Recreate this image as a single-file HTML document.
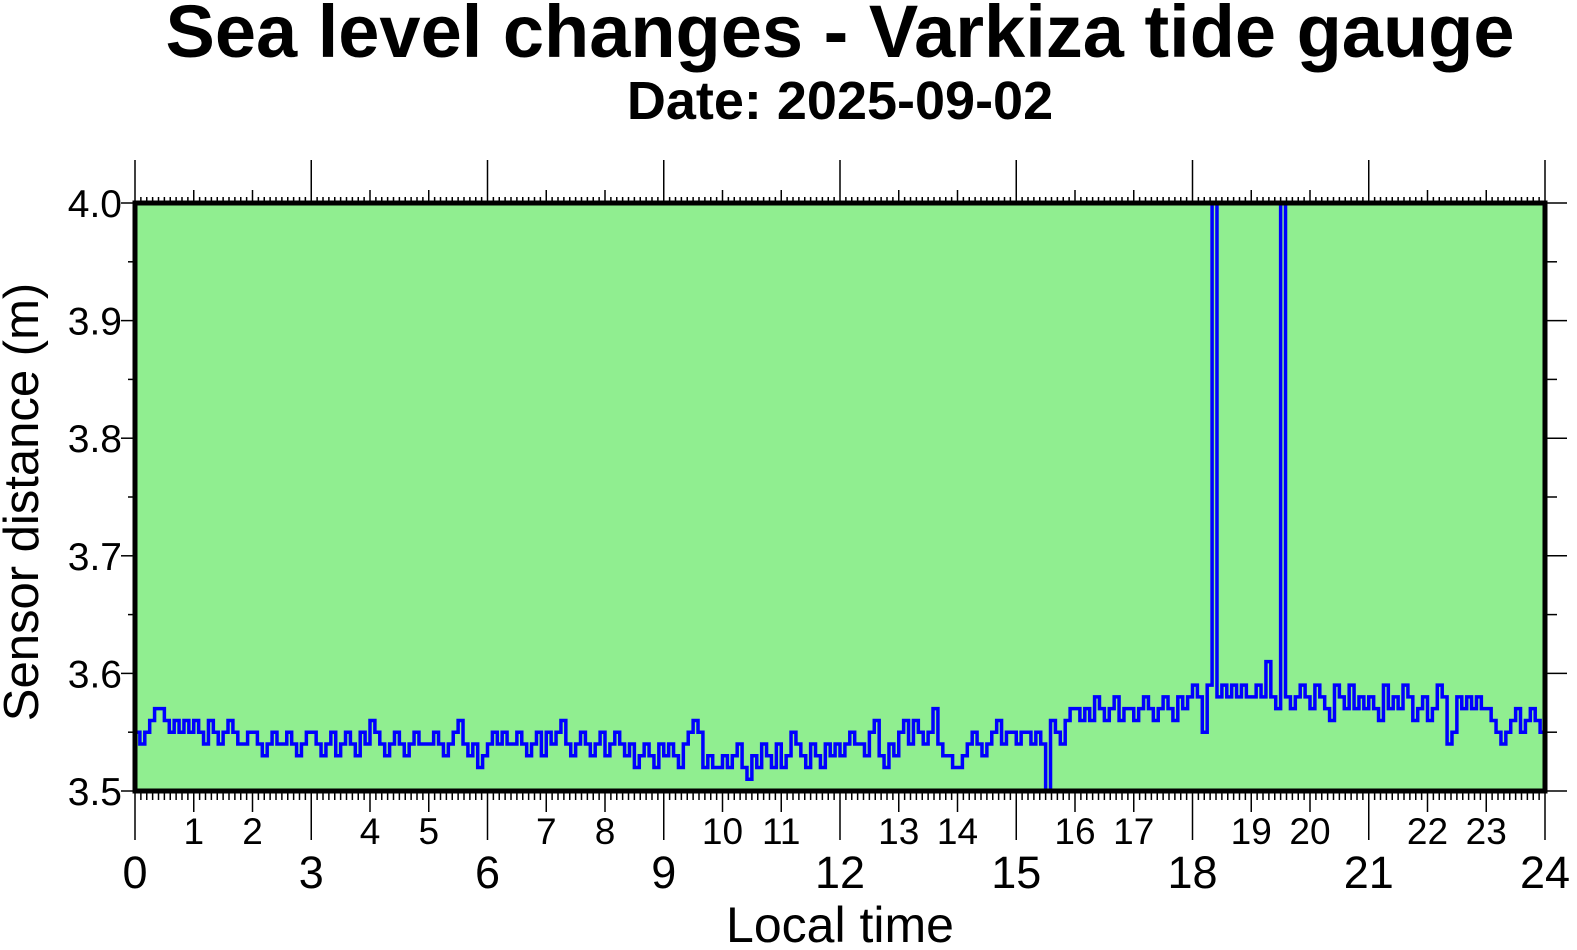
<!DOCTYPE html>
<html><head><meta charset="utf-8"><style>
body{margin:0;background:#fff;}
svg{display:block;font-family:"Liberation Sans",sans-serif;}
</style></head><body>
<svg id="chart" width="1577" height="950" viewBox="0 0 1577 950">
<text x="840" y="57" font-size="74" font-weight="bold" text-anchor="middle">Sea level changes - Varkiza tide gauge</text>
<text x="840" y="119" font-size="54" font-weight="bold" text-anchor="middle">Date: 2025-09-02</text>
<rect x="135" y="203" width="1410" height="588" fill="#90ee90"/>
<g id="ticks"></g>
<g id="series"></g>
<rect x="135" y="203" width="1410" height="588" fill="none" stroke="#000" stroke-width="5"/>
<text transform="translate(38,502) rotate(-90)" font-size="49" text-anchor="middle">Sensor distance (m)</text>
<text x="840" y="942" font-size="50" text-anchor="middle">Local time</text>
</svg>
<script>
const yTicks=[3.5,3.6,3.7,3.8,3.9,4.0];
const yLabels=["3.5","3.6","3.7","3.8","3.9","4.0"];
const xMajor=[0,3,6,9,12,15,18,21,24];
const xMinorLabels=[1,2,4,5,7,8,10,11,13,14,16,17,19,20,22,23];
// sea level in centimetres above 3.00 m, sampled every 5 minutes from 00:00
const levelsCm=[
55,54,55,56,57,57,56,55,56,55,56,55,
56,55,54,56,55,54,55,56,55,54,54,55,
55,54,53,54,55,54,54,55,54,53,54,55,
55,54,53,54,55,53,54,55,54,53,55,54,
56,55,54,53,54,55,54,53,54,55,54,54,
54,55,54,53,54,55,56,54,53,54,52,53,
54,55,54,55,54,54,55,54,53,54,55,53,
55,54,55,56,54,53,54,55,54,53,54,55,
53,54,55,54,53,54,52,53,54,53,52,54,
53,54,53,52,54,55,56,55,52,53,52,52,
53,52,53,54,52,51,53,52,54,53,52,54,
52,53,55,54,53,52,54,53,52,54,53,54,
53,54,55,54,54,53,55,56,53,52,54,53,
55,56,54,56,55,54,55,57,54,53,53,52,
52,53,54,55,54,53,54,55,56,54,55,55,
54,55,55,54,55,54,50,56,55,54,56,57,
57,56,57,56,58,57,56,57,58,56,57,57,
56,57,58,57,56,57,58,57,56,58,57,58,
59,58,55,59,100,58,59,58,59,58,59,58,
58,59,58,61,58,57,100,58,57,58,59,58,
57,59,58,57,56,59,58,57,59,57,58,57,
58,57,56,59,57,58,57,59,58,56,57,58,
56,57,59,58,54,55,58,57,58,57,58,57,
57,56,55,54,55,56,57,55,56,57,56,55,
56];
const X0=135,X1=1545,Y0=791,Y1=203;
const xs=h=>X0+(h/24)*(X1-X0);
const ys=v=>Y0-((Math.min(v,4)-3.5)/0.5)*(Y0-Y1);
const NS="http://www.w3.org/2000/svg";
const tg=document.getElementById('ticks');
function line(x1,y1,x2,y2,w,name){const l=document.createElementNS(NS,'line');
l.setAttribute('x1',x1);l.setAttribute('y1',y1);l.setAttribute('x2',x2);l.setAttribute('y2',y2);
l.setAttribute('stroke','#000');l.setAttribute('stroke-width',w);


tg.appendChild(l);}
function text(x,y,s,size,name){const t=document.createElementNS(NS,'text');
t.setAttribute('x',x);t.setAttribute('y',y);t.setAttribute('font-size',size);t.setAttribute('text-anchor','middle');t.textContent=s;


tg.appendChild(t);}
for(let i=0;i<=240;i++){const x=xs(i/10);
 let len=(i%30===0)?43:(i%10===0)?13:6;
 let lenB=(i%30===0)?49:(i%10===0)?21:9;
 line(x,Y1,x,Y1-len,1.5,'x-tick-top');
 line(x,Y0,x,Y0+lenB,1.5,'x-tick-bottom');}
for(let i=0;i<=10;i++){const y=Y0-i*(Y0-Y1)/10;const major=i%2===0;
 line(X0,y,X0-(major?14:7),y,1.5,'y-tick-left');
 line(X1,y,X1+(major?22:12),y,1.5,'y-tick-right');}
yTicks.forEach((v,i)=>{const t=document.createElementNS(NS,'text');
 t.setAttribute('x',122);t.setAttribute('y',ys(v)+14);t.setAttribute('font-size',39);t.setAttribute('text-anchor','end');t.textContent=yLabels[i];
 
 
 tg.appendChild(t);});
xMinorLabels.forEach(h=>text(xs(h),844,String(h),37,'x-hour-label'));
xMajor.forEach(h=>text(xs(h),888,String(h),45,'x-major-label'));
const sg=document.getElementById('series');
let d='';
levelsCm.forEach((c,i)=>{const x=xs(i/12),y=ys(3+c/100);
 if(i===0)d+='M'+x+' '+y;else d+=' H'+x+' V'+y;});
const p=document.createElementNS(NS,'path');
p.setAttribute('d',d);p.setAttribute('fill','none');p.setAttribute('stroke','#0000ff');p.setAttribute('stroke-width',3.5);


sg.appendChild(p);
</script>
</body></html>
